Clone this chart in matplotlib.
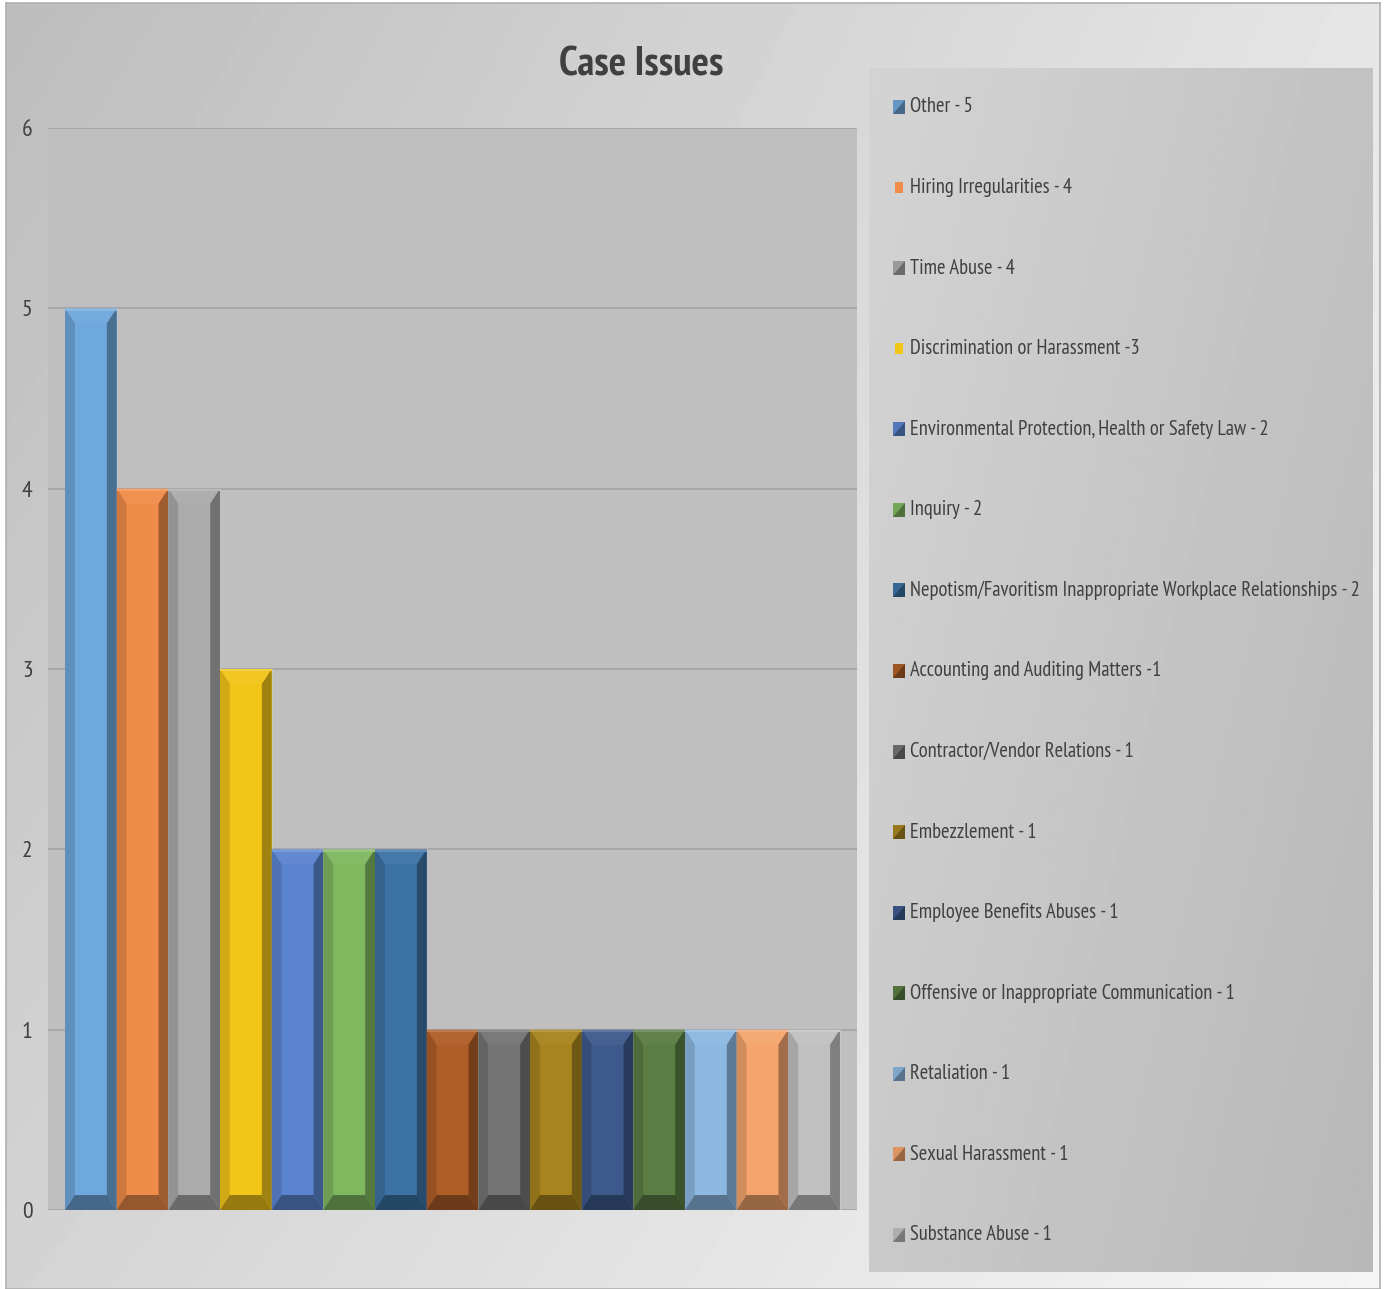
import numpy as np
import matplotlib
matplotlib.use('Agg')
import matplotlib.pyplot as plt
from matplotlib.patches import Rectangle, Polygon
from matplotlib.colors import to_rgb

plt.rcParams['font.family'] = ['PT Sans Narrow', 'Roboto Condensed', 'DejaVu Sans']

issues = ['Other', 'Hiring Irregularities', 'Time Abuse', 'Discrimination or Harassment',
          'Environmental Protection, Health or Safety Law', 'Inquiry',
          'Nepotism/Favoritism Inappropriate Workplace Relationships',
          'Accounting and Auditing Matters', 'Contractor/Vendor Relations', 'Embezzlement',
          'Employee Benefits Abuses', 'Offensive or Inappropriate Communication',
          'Retaliation', 'Sexual Harassment', 'Substance Abuse']
counts = [5, 4, 4, 3, 2, 2, 2, 1, 1, 1, 1, 1, 1, 1, 1]
legend_labels = ['Other - 5', 'Hiring Irregularities - 4', 'Time Abuse - 4',
                 'Discrimination or Harassment -3',
                 'Environmental Protection, Health or Safety Law - 2', 'Inquiry - 2',
                 'Nepotism/Favoritism Inappropriate Workplace Relationships - 2',
                 'Accounting and Auditing Matters -1', 'Contractor/Vendor Relations - 1',
                 'Embezzlement - 1', 'Employee Benefits Abuses - 1',
                 'Offensive or Inappropriate Communication - 1', 'Retaliation - 1',
                 'Sexual Harassment - 1', 'Substance Abuse - 1']
colors = ['#6fa8dc', '#f08c4a', '#ababab', '#f2c519', '#5b84d0', '#80b860', '#3c72a4',
          '#b05e28', '#747474', '#a8841e', '#3e5a8c', '#5a7d44', '#8db8e2', '#f4a46c', '#c0c0c0']
plain_marker = [False, True, False, True] + [False] * 11

def shade(c, f):
    r = np.array(to_rgb(c))
    if f >= 1:
        return tuple(r + (1 - r) * (f - 1))
    return tuple(r * f)

W, H = 1384, 1289
fig = plt.figure(figsize=(W / 100, H / 100), dpi=100, facecolor='white')

# background frame with soft gradient
bg = fig.add_axes([6 / W, 0.0, 1374 / W, 1 - 3 / H], zorder=-5)
gx, gy = np.meshgrid(np.linspace(0, 1, 300), np.linspace(0, 1, 300))
grad = 0.77 + 0.13 * gx + 0.06 * gy - 0.03 * (1 - gx) * (1 - gy)
bg.imshow(grad, cmap='gray', vmin=0, vmax=1, extent=[0, 1, 0, 1], aspect='auto', origin='upper')
bg.set_xlim(0, 1)
bg.set_ylim(0, 1)
bg.set_xticks([])
bg.set_yticks([])
for s in bg.spines.values():
    s.set_color('#b0b0b0')
    s.set_linewidth(1.2)

fig.text(641 / W, 1 - 65 / H, 'Case Issues', ha='center', va='center',
         fontsize=29.5, fontweight='bold', color='#404040')

# plot area
ax = fig.add_axes([48 / W, 1 - 1210 / H, 809 / W, 1082 / H])
ax.set_facecolor('#bfbfbf')
x = np.arange(len(counts))
ax.bar(x, counts, width=1.0, color=colors, edgecolor='#c9c9c9', linewidth=0.6, zorder=3)
dx = 0.19
dy = 0.083
for xi, v, c in zip(x, counts, colors):
    l, r = xi - 0.5, xi + 0.5
    top = [(l, v), (r, v), (r - dx, v - dy), (l + dx, v - dy)]
    left = [(l, v), (l + dx, v - dy), (l + dx, dy), (l, 0)]
    right = [(r, v), (r - dx, v - dy), (r - dx, dy), (r, 0)]
    bottom = [(l, 0), (l + dx, dy), (r - dx, dy), (r, 0)]
    ax.add_patch(Polygon(top, closed=True, facecolor=shade(c, 1.04), edgecolor='none', zorder=4))
    ax.add_patch(Polygon(left, closed=True, facecolor=shade(c, 0.86), edgecolor='none', zorder=4))
    ax.add_patch(Polygon(right, closed=True, facecolor=shade(c, 0.66), edgecolor='none', zorder=4))
    ax.add_patch(Polygon(bottom, closed=True, facecolor=shade(c, 0.62), edgecolor='none', zorder=4))
    ax.plot([l + 0.02, r - 0.02], [v - 0.008, v - 0.008], color=shade(c, 1.18), lw=1.5, zorder=5)
ax.set_xlim(-0.83, 14.83)
ax.set_ylim(0, 6)
ax.set_yticks(range(7))
ax.set_xticks([])
ax.yaxis.grid(True, color='#a3a3a3', linewidth=1.2, zorder=1)
ax.tick_params(axis='y', length=0, pad=11, labelsize=17, labelcolor='#404040')
for s in ax.spines.values():
    s.set_visible(False)

# legend panel
lg = fig.add_axes([869 / W, 1 - 1272 / H, 504 / W, 1204 / H])
lx, ly = np.meshgrid(np.linspace(0, 1, 300), np.linspace(0, 1, 300))
lgrad = 0.83 - 0.07 * lx - 0.04 * ly
lg.imshow(lgrad, cmap='gray', vmin=0, vmax=1, extent=[0, 1, 0, 1], aspect='auto', origin='upper')
lg.set_xlim(0, 1)
lg.set_ylim(0, 1)
lg.set_xticks([])
lg.set_yticks([])
for s in lg.spines.values():
    s.set_visible(False)

step = 80.57 / 1204
y0 = 1 - 39 / 1204
mw, mh = 12 / 504, 14 / 1204
for i, (lab, c) in enumerate(zip(legend_labels, colors)):
    yc = y0 - i * step
    mx = 24 / 504
    if plain_marker[i]:
        lg.add_patch(Rectangle((mx + 0.004, yc - mh * 0.4), mw * 0.7, mh * 0.8,
                               facecolor=c, edgecolor='none'))
    else:
        lg.add_patch(Rectangle((mx, yc - mh / 2), mw, mh, facecolor=shade(c, 0.9),
                               edgecolor='none'))
        lg.add_patch(Polygon([(mx + mw, yc + mh / 2), (mx + mw, yc - mh / 2), (mx, yc - mh / 2)],
                             closed=True, facecolor=shade(c, 0.62), edgecolor='none'))
    lg.text(41 / 504, yc, lab, ha='left', va='center', fontsize=14.8, color='#404040')

fig.savefig('out.png', dpi=100, facecolor='white')
